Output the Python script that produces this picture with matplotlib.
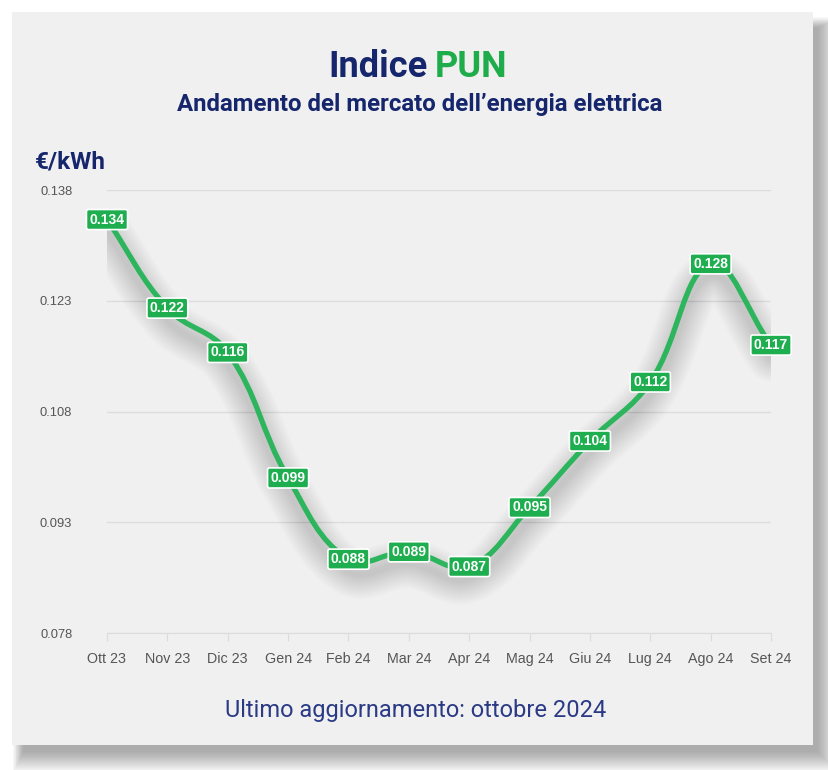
import numpy as np
import matplotlib
matplotlib.use("Agg")
from matplotlib import pyplot as plt
from matplotlib.path import Path
from matplotlib.patches import PathPatch, Rectangle
import matplotlib.transforms as mtransforms

mesi = ["Ott 23", "Nov 23", "Dic 23", "Gen 24", "Feb 24", "Mar 24",
        "Apr 24", "Mag 24", "Giu 24", "Lug 24", "Ago 24", "Set 24"]
pun = [0.134, 0.122, 0.116, 0.099, 0.088, 0.089,
       0.087, 0.095, 0.104, 0.112, 0.128, 0.117]
yticks = [0.078, 0.093, 0.108, 0.123, 0.138]

NAVY = "#15266c"
GREEN = "#1fac4b"
LINE = "#2db55d"
CARD = "#f0f0f0"

W, H = 829, 770
fig = plt.figure(figsize=(W / 100, H / 100), dpi=100)
fig.patch.set_facecolor("white")

# scheda con ombra morbida
def px_rect(x0, y0, x1, y1, **kw):
    return Rectangle((x0 / W, 1 - y1 / H), (x1 - x0) / W, (y1 - y0) / H,
                     transform=fig.transFigure, **kw)

for k in range(22):
    g = 22 - k
    fig.patches.append(px_rect(12 + 12 - g * 0.5, 12 + 16 - g * 0.5, 813 + 4 + g, 745 + 6 + g,
                               facecolor="black", edgecolor="none", alpha=0.014, zorder=-3))
fig.patches.append(px_rect(12, 12, 813, 745, facecolor=CARD, edgecolor="none", zorder=-2))

ax = fig.add_axes([107 / W, 1 - 633 / H, (771 - 107) / W, (633 - 190) / H])
ax.set_facecolor("none")
ax.set_xlim(0, len(mesi) - 1)
ax.set_ylim(0.078, 0.138)
x = np.arange(len(pun))

# curva morbida (tensione 0.4 come Chart.js), calcolata in pixel
pts = ax.transData.transform(np.column_stack([x, pun]))
verts = [pts[0]]
codes = [Path.MOVETO]
cps = []
t = 0.4
for i in range(len(pts)):
    prev = pts[max(i - 1, 0)]
    cur = pts[i]
    nxt = pts[min(i + 1, len(pts) - 1)]
    d01 = np.hypot(*(cur - prev))
    d12 = np.hypot(*(nxt - cur))
    s01 = d01 / (d01 + d12) if d01 + d12 else 0
    s12 = d12 / (d01 + d12) if d01 + d12 else 0
    cps.append((cur - t * s01 * (nxt - prev), cur + t * s12 * (nxt - prev)))
for i in range(1, len(pts)):
    verts += [cps[i - 1][1], cps[i][0], pts[i]]
    codes += [Path.CURVE4] * 3
inv = ax.transData.inverted()
path = Path(inv.transform(np.array(verts)), codes)

# ombra della linea
off = mtransforms.offset_copy(ax.transData, fig=fig, x=0, y=-12, units="dots")
for k in range(14):
    ax.add_patch(PathPatch(path, facecolor="none", edgecolor="black",
                           lw=4 + k * 2.4, alpha=0.011, transform=off,
                           capstyle="round", joinstyle="round", zorder=2))
ax.add_patch(PathPatch(path, facecolor="none", edgecolor=LINE, lw=3.8,
                       capstyle="round", joinstyle="round", zorder=3))

for xi, v in zip(x, pun):
    ax.text(xi, v, f"{v:.3f}", ha="center", va="center", color="white",
            fontsize=10, fontweight="bold", family="Liberation Sans", zorder=5,
            bbox=dict(boxstyle="round,pad=0.22,rounding_size=0.15", facecolor="#1fae4f",
                      edgecolor="white", linewidth=1.2))

ax.set_yticks(yticks)
ax.set_yticklabels([f"{v:.3f}" for v in yticks])
ax.set_xticks(x)
ax.set_xticklabels(mesi)
ax.grid(axis="y", color="#dcdcdc", linewidth=1)
ax.set_axisbelow(True)
for s in ["top", "right", "left"]:
    ax.spines[s].set_visible(False)
ax.spines["bottom"].set_color("#dcdcdc")
ax.tick_params(axis="y", length=0, pad=25, labelsize=9.3, labelcolor="#555555")
ax.tick_params(axis="x", length=6, color="#dcdcdc", pad=8, labelsize=10.3, labelcolor="#555555")
for lab in ax.get_xticklabels() + ax.get_yticklabels():
    lab.set_family("Liberation Sans")

# testi
fig.text(428 / W, 1 - 67 / H, "Indice", ha="right", va="center", color=NAVY,
         fontsize=26, fontweight="bold", family="Roboto")
fig.text(435 / W, 1 - 67 / H, "PUN", ha="left", va="center", color=GREEN,
         fontsize=26, fontweight="bold", family="Roboto")
fig.text(420 / W, 1 - 104 / H, "Andamento del mercato dell\u2019energia elettrica",
         ha="center", va="center", color=NAVY, fontsize=17.3, fontweight="bold", family="Roboto")
fig.text(35 / W, 1 - 162 / H, "\u20ac/kWh", ha="left", va="center", color=NAVY,
         fontsize=17.5, fontweight="bold", family="Roboto")
fig.text(416 / W, 1 - 710 / H, "Ultimo aggiornamento: ottobre 2024", ha="center",
         va="center", color="#2a3a85", fontsize=17, fontweight="normal", family="Roboto")

fig.savefig("out.png", dpi=100, facecolor="white")
